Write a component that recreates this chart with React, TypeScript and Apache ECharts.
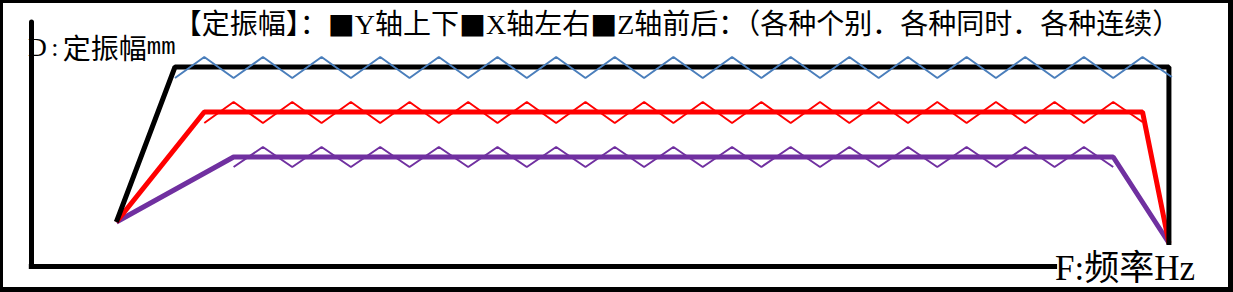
import React, { useEffect, useRef } from "react";
import * as echarts from "echarts";

const WIDTH = 1233;
const HEIGHT = 292;

// Texts drawn on the chart
const titleText =
  "【定振幅】：{sq|■}Y轴上下{sq|■}X轴左右{sq|■}Z轴前后：（各种个别．各种同时．各种连续）";
const amplitudeSymbol = "D";
const amplitudeLabel = "定振幅";
const amplitudeUnit = "mm";
const frequencyLabel = "F:频率Hz";

// Frequency steps along the horizontal axis
const steps = [
  0, 1, 2, 3, 4, 5, 6, 7, 8, 9, 10, 11, 12, 13, 14, 15, 16, 17, 18, 19, 20,
  21, 22, 23, 24, 25, 26, 27, 28, 29, 30, 31, 32, 33, 34,
];

// Sweep waves (Y / X / Z directions), one value per step
const blueWave = [
  18.8, 20.9, 18.8, 20.9, 18.8, 20.9, 18.8, 20.9, 18.8, 20.9, 18.8, 20.9,
  18.8, 20.9, 18.8, 20.9, 18.8, 20.9, 18.8, 20.9, 18.8, 20.9, 18.8, 20.9,
  18.8, 20.9, 18.8, 20.9, 18.8, 20.9, 18.8, 20.9, 18.8, 20.9, 18.9,
]; // steps 0..34
const redWave = [
  14.3, 16.4, 14.3, 16.4, 14.3, 16.4, 14.3, 16.4, 14.3, 16.4, 14.3, 16.4,
  14.3, 16.4, 14.3, 16.4, 14.3, 16.4, 14.3, 16.4, 14.3, 16.4, 14.3, 16.4,
  14.3, 16.4, 14.3, 16.4, 14.3, 16.4, 14.3, 16.4, 14.4,
]; // steps 1..33
const purpleWave = [
  9.9, 11.9, 9.9, 11.9, 9.9, 11.9, 9.9, 11.9, 9.9, 11.9, 9.9, 11.9, 9.9,
  11.9, 9.9, 11.9, 9.9, 11.9, 9.9, 11.9, 9.9, 11.9, 9.9, 11.9, 9.9, 11.9,
  9.9, 11.9, 9.9, 11.9, 9.9,
]; // steps 2..32

// Amplitude envelopes
const blackX = [-2, 0, 33.9, 33.9];
const blackY = [4.4, 19.9, 19.9, 2.1];
const redX = [-2, 1, 33, 33.9];
const redY = [4.4, 15.4, 15.4, 2.3];
const purpleX = [-2, 2, 32, 33.9];
const purpleY = [4.4, 10.9, 10.9, 2.3];

// Plot extent (data area) and the shorter visible axis frame
const X_MIN = -4.9;
const X_MAX = 36;
const X_AXIS_END = 30;
const Y_MIN = 0;
const Y_MAX = 24.4;

const FONT = '"Liberation Serif", "Noto Sans CJK SC", serif';
const CJK = '"Noto Sans CJK SC", sans-serif';

const pairs = (xs: number[], ys: number[]) => ys.map((y, i) => [xs[i], y]);

function lineSeries(name: string, data: number[][], color: string, width: number, z: number) {
  return {
    type: "line",
    name,
    data,
    xAxisIndex: 0,
    yAxisIndex: 0,
    symbol: "none",
    z,
    lineStyle: { color, width },
    itemStyle: { color },
    emphasis: { disabled: true },
  };
}

const hiddenParts = {
  axisTick: { show: false },
  axisLabel: { show: false },
  splitLine: { show: false },
};

export default function App() {
  const ref = useRef<HTMLDivElement>(null);

  useEffect(() => {
    document.body.style.margin = "0";
    if (!ref.current) return;
    const chart = echarts.init(ref.current, null, { renderer: "svg" });

    const option = {
      animation: false,
      backgroundColor: "#ffffff",
      grid: [
        { left: 31.3, right: 2.5, top: 22, bottom: 26 },
        { left: 31.3, right: 178.4, top: 22, bottom: 26 },
      ],
      xAxis: [
        { type: "value", gridIndex: 0, min: X_MIN, max: X_MAX, axisLine: { show: false }, ...hiddenParts },
        {
          type: "value",
          gridIndex: 1,
          min: X_MIN,
          max: X_AXIS_END,
          z: 5,
          axisLine: { show: true, onZero: false, lineStyle: { color: "#000", width: 5, cap: "square" } },
          ...hiddenParts,
        },
      ],
      yAxis: [
        { type: "value", gridIndex: 0, min: Y_MIN, max: Y_MAX, axisLine: { show: false }, ...hiddenParts },
        {
          type: "value",
          gridIndex: 1,
          min: Y_MIN,
          max: Y_MAX,
          z: 5,
          axisLine: { show: true, onZero: false, lineStyle: { color: "#000", width: 5 } },
          ...hiddenParts,
        },
      ],
      series: [
        lineSeries("Z轴前后", pairs(purpleX, purpleY), "#7030A0", 5, 2),
        lineSeries("X轴左右", pairs(redX, redY), "#FF0000", 5, 2),
        lineSeries("Y轴上下", pairs(blackX, blackY), "#000000", 5, 2),
        lineSeries("Z轴扫频", pairs(steps.slice(2, 33), purpleWave), "#7030A0", 2, 3),
        lineSeries("X轴扫频", pairs(steps.slice(1, 34), redWave), "#FF0000", 2, 3),
        lineSeries("Y轴扫频", pairs(steps, blueWave), "#4A7EBB", 2, 3),
      ],
      graphic: [
        // outer frame
        { type: "rect", shape: { x: 0, y: 0, width: WIDTH, height: 3 }, style: { fill: "#000" } },
        { type: "rect", shape: { x: 0, y: 0, width: 3, height: HEIGHT }, style: { fill: "#000" } },
        { type: "rect", shape: { x: WIDTH - 5, y: 0, width: 5, height: HEIGHT }, style: { fill: "#000" } },
        { type: "rect", shape: { x: 0, y: HEIGHT - 5, width: WIDTH, height: 5 }, style: { fill: "#000" } },
        {
          type: "text",
          x: 677,
          y: 24.5,
          z: 0,
          style: {
            text: titleText,
            fill: "#000",
            fontSize: 28,
            fontFamily: FONT,
            align: "center",
            verticalAlign: "middle",
            rich: {
              sq: { fontSize: 27, fontFamily: CJK, fill: "#000" },
            },
          },
        },
        {
          type: "text",
          x: 28,
          y: 47,
          z: 0,
          style: {
            text: `{d|${amplitudeSymbol}}{c|:}{a|${amplitudeLabel}}{b|${amplitudeUnit}}`,
            fill: "#000",
            align: "left",
            verticalAlign: "middle",
            rich: {
              d: { fontSize: 26, fontFamily: FONT, fill: "#000" },
              c: { fontSize: 26, fontFamily: FONT, fill: "#000", width: 16, align: "center" },
              a: { fontSize: 28, fontFamily: CJK, fill: "#000" },
              b: { fontSize: 24, fontFamily: '"Liberation Mono", monospace', fill: "#000" },
            },
          },
        },
        {
          type: "text",
          x: 1055,
          y: 268.5,
          style: {
            text: frequencyLabel,
            fill: "#000",
            fontSize: 35,
            fontFamily: FONT,
            align: "left",
            verticalAlign: "middle",
          },
        },
      ],
    };

    chart.setOption(option as any);
    return () => chart.dispose();
  }, []);

  return <div ref={ref} style={{ width: WIDTH, height: HEIGHT }} />;
}
